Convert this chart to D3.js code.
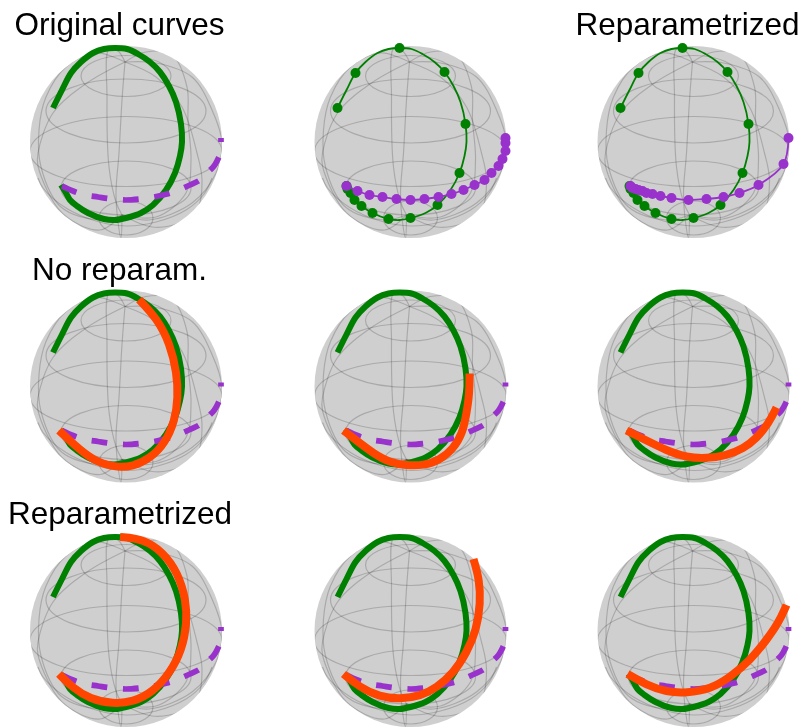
<!DOCTYPE html>
<html>
<head>
<meta charset="utf-8">
<script src="https://cdn.jsdelivr.net/npm/d3@7"></script>
<style>
html, body { margin: 0; padding: 0; background: #fff; }
svg { display: block; }
</style>
</head>
<body>
<div id="chart"></div>
<script>
const greenCurve = [[-73,-34],[-64,-52],[-55,-69],[-45,-80],[-33,-89],[-22,-93],[-11,-94],[1,-93],[12,-88],[24,-80],[34,-70],[43,-56],[50,-40],[55,-18],[56,0],[54,14],[49,31],[40,48],[27,63],[15,71],[0,76],[-11,78],[-22,77],[-38,71],[-49,64],[-56,58],[-60,51],[-65,43]];
const greenDots = [[-73,-34],[-55,-69],[-11,-94],[34,-70],[55,-18],[49,31],[27,63],[0,76],[-22,77],[-38,71],[-49,64],[-56,58],[-60,51],[-63,47],[-64,44]];
const purpleDots = [[-64,44],[-53,49],[-41,53],[-28,55],[-14,57],[0,58],[14,57],[28,55],[41,52],[53,48],[64,43],[74,38],[81,31],[88,24],[92,17],[95,9],[95,1],[95,-4]];
const purpleReparam = [[95,-4],[90,22],[65,43],[46,51],[30,55],[13,57],[-5,58],[-22,56],[-33,54],[-41,52],[-47,51],[-51,49],[-55,48],[-58,47],[-61,46],[-63,44]];

const orangeNoReparam1 = [[-67,44],[-51,59],[-33,74],[-11,81],[7,80],[24,72],[39,57],[49,34],[52,11],[51,-13],[44,-43],[31,-68],[13,-87]];
const orangeNoReparam2 = [[-67,44],[-54,54],[-37,67],[-21,76],[-4,79],[13,79],[29,74],[43,62],[52,47],[56,27],[59,7],[59,-13]];
const orangeNoReparam3 = [[-67,44],[-47,54],[-27,64],[-7,71],[13,72],[33,69],[50,62],[63,52],[75,37],[83,21]];
const orangeReparam1 = [[-67,43],[-53,57],[-36,68],[-13,73],[7,71],[27,61],[44,42],[56,19],[61,-8],[60,-31],[52,-58],[37,-79],[17,-92],[-6,-94]];
const orangeReparam2 = [[-67,43],[-51,56],[-31,66],[-10,68],[10,65],[26,57],[43,42],[56,22],[66,-1],[70,-28],[69,-51],[63,-72]];
const orangeReparam3 = [[-66,43],[-47,54],[-27,61],[-7,62],[17,58],[37,46],[57,29],[73,9],[85,-8],[93,-26]];

// wireframe of the sphere as seen in the picture
const ringCentres = [-66, -31, 9.5, 46, 76];
const ringHalfWidths = [45, 80, 96, 65, 27];
const ringHalfHeights = [20.5, 32, 35, 27, 17];
const lowerArc = [[-88,36],[-83,46],[-60,66],[-30,79],[0,84],[30,80],[60,68],[78,52],[86,36]];
const meridianFrontMid = [[-1,-80],[-4,-42],[-7,11],[-10,51],[-8,80],[-5,96],[-4,73]];
const meridianBackMid = [[-1,-80],[-8,-91],[-17,-93],[-19,-45],[-17,25],[-10,60],[-4,73]];
const meridianFrontLeft = [[-1,-80],[-39,-59],[-73,-29],[-88,11],[-88,24],[-64,71],[-26,88],[-4,73]];
const meridianBackLeft = [[-1,-80],[-30,-89],[-60,-75],[-80,-45],[-87,-12],[-85,25],[-65,65],[-27,78],[-4,73]];
const meridianFrontRight = [[-1,-80],[30,-65],[56,-35],[71,11],[76,38],[71,68],[53,81],[26,85],[-4,73]];
const meridianBackRight = [[-1,-80],[20,-90],[46,-87],[61,-55],[62,-22],[65,18],[60,51],[30,75],[-4,73]];
const meridianFarRight = [[-1,-80],[30,-79],[66,-65],[86,-32],[96,1],[90,31],[66,61],[23,78],[-4,73]];
const gridCurves = [lowerArc, meridianFrontMid, meridianBackMid, meridianFrontLeft, meridianBackLeft, meridianFrontRight, meridianBackRight, meridianFarRight];

const width = 806, height = 727, radius = 96;
const colCentres = [126, 410.5, 693.5];
const rowCentres = [142, 386.5, 631];

const svg = d3.select('#chart').append('svg')
	.attr('width', width)
	.attr('height', height)
	.style('filter', 'blur(0.35px)');

function drawPanel(col, row) {
	let cx = colCentres[col], cy = rowCentres[row];
	let xScale = d3.scaleLinear().domain([-radius, radius]).range([cx - radius, cx + radius]);
	let yScale = d3.scaleLinear().domain([-radius, radius]).range([cy - radius, cy + radius]);
	let g = svg.append('g').attr('class', 'panel');
	let clipId = 'sphere-' + col + '-' + row;

	g.append('clipPath').attr('id', clipId)
		.append('circle')
		.attr('cx', xScale(0))
		.attr('cy', yScale(0))
		.attr('r', radius);

	g.append('circle')
		.attr('cx', xScale(0))
		.attr('cy', yScale(0))
		.attr('r', radius)
		.attr('fill', '#cfcfcf');

	let wire = g.append('g')
		.attr('clip-path', 'url(#' + clipId + ')')
		.attr('fill', 'none')
		.attr('stroke', '#000')
		.attr('stroke-width', 1.2)
		.attr('stroke-opacity', 0.18);

	wire.selectAll('ellipse')
		.data(ringCentres)
		.enter().append('ellipse')
		.attr('cx', xScale(0))
		.attr('cy', d => yScale(d))
		.attr('rx', (d, i) => ringHalfWidths[i])
		.attr('ry', (d, i) => ringHalfHeights[i]);

	let gridLine = d3.line().curve(d3.curveCatmullRom).x(d => xScale(d[0])).y(d => yScale(d[1]));
	wire.selectAll('path')
		.data(gridCurves)
		.enter().append('path')
		.attr('d', gridLine);

	return {g: g, x: xScale, y: yScale};
}

function addCurve(p, data, color, lineWidth, dash, curve) {
	let line = d3.line()
		.curve(curve || d3.curveCatmullRom)
		.x(d => p.x(d[0]))
		.y(d => p.y(d[1]));
	let path = p.g.append('path')
		.attr('d', line(data))
		.attr('fill', 'none')
		.attr('stroke', color)
		.attr('stroke-width', lineWidth);
	if (dash) path.attr('stroke-dasharray', dash);
}

function addDots(p, data, color) {
	p.g.selectAll(null)
		.data(data)
		.enter().append('circle')
		.attr('cx', d => p.x(d[0]))
		.attr('cy', d => p.y(d[1]))
		.attr('r', 5)
		.attr('fill', color);
}

const green = '#008000', purple = '#9932cc', orange = '#ff4500';

function basePanel(col, row) {
	let p = drawPanel(col, row);
	addCurve(p, greenCurve, green, 6);
	addCurve(p, purpleDots, purple, 5.7, '15.75 15.75');
	return p;
}

// top row
basePanel(0, 0);

let dots = drawPanel(1, 0);
addCurve(dots, greenCurve, green, 1.8);
addDots(dots, greenDots, green);
addCurve(dots, purpleDots, purple, 1.8);
addDots(dots, purpleDots, purple);

let dots2 = drawPanel(2, 0);
addCurve(dots2, greenCurve, green, 1.8);
addDots(dots2, greenDots, green);
addCurve(dots2, purpleReparam, purple, 1.8);
addDots(dots2, purpleReparam, purple);

// geodesic rows
[orangeNoReparam1, orangeNoReparam2, orangeNoReparam3].forEach(function (c, i) {
	addCurve(basePanel(i, 1), c, orange, 8, null, d3.curveBasis);
});
[orangeReparam1, orangeReparam2, orangeReparam3].forEach(function (c, i) {
	addCurve(basePanel(i, 2), c, orange, 8, null, d3.curveBasis);
});

const titles = [
	{text: 'Original curves', x: 119.5, y: 35},
	{text: 'Reparametrized', x: 687.5, y: 35},
	{text: 'No reparam.', x: 119.5, y: 280},
	{text: 'Reparametrized', x: 120, y: 524}
];
svg.selectAll('text')
	.data(titles)
	.enter().append('text')
	.attr('x', d => d.x)
	.attr('y', d => d.y)
	.attr('text-anchor', 'middle')
	.attr('font-family', '"Liberation Sans", Arial, sans-serif')
	.attr('font-size', 31.5)
	.attr('fill', '#000')
	.text(d => d.text);
</script>
</body>
</html>
